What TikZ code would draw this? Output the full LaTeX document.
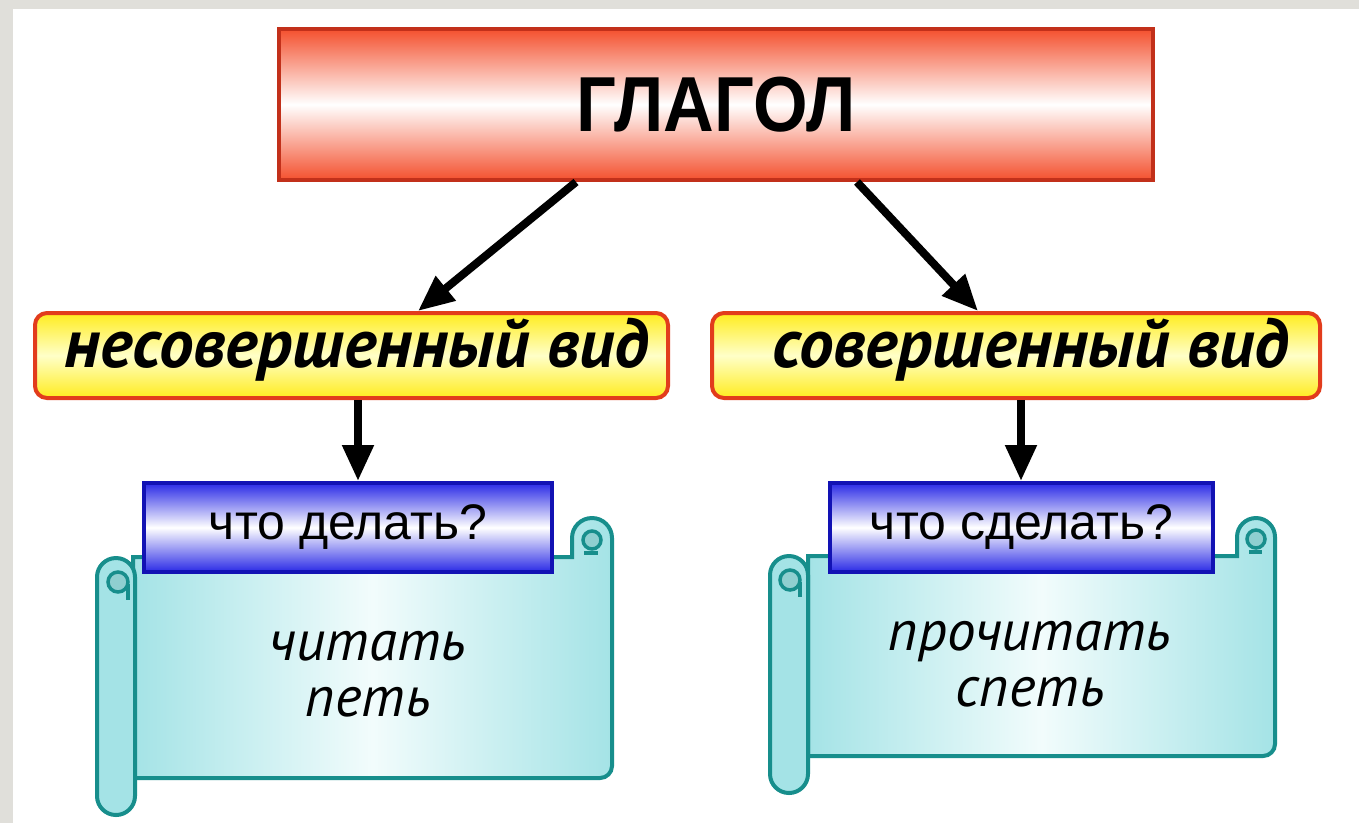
\documentclass[tikz,border=0pt]{standalone}
\usepackage{fontspec}
\setmainfont{Liberation Sans}
\newfontfamily\ptsans{PT Sans}
\usetikzlibrary{arrows.meta}
\definecolor{bgray}{HTML}{E0DFDA}
\definecolor{redfill}{HTML}{F4502E}
\definecolor{redline}{HTML}{C2301A}
\definecolor{yelfill}{HTML}{FFEC1E}
\definecolor{yelmid}{HTML}{FFFFC8}
\definecolor{yelline}{HTML}{E23C1C}
\definecolor{bluefill}{HTML}{2A2AE6}
\definecolor{blueline}{HTML}{1212B4}
\definecolor{cyanfill}{HTML}{A4E3E6}
\definecolor{cyanmid}{HTML}{F2FCFC}
\definecolor{tealline}{HTML}{178E8C}
\definecolor{curlfill}{HTML}{8FCFD0}
\tikzset{
  redbox/.style={draw=redline, line width=4pt, top color=redfill, bottom color=redfill, middle color=white, inner sep=0pt},
  yelbox/.style={draw=yelline, line width=4pt, rounded corners=12pt, top color=yelfill, bottom color=yelfill, middle color=yelmid, inner sep=0pt, minimum width=633pt, minimum height=85pt},
  bluebox/.style={draw=blueline, line width=4pt, top color=bluefill, bottom color=bluefill, middle color=white, inner sep=0pt, minimum height=89pt},
  scrollbody/.style={draw=tealline, line width=4pt, left color=cyanfill, right color=cyanfill, middle color=cyanmid},
  rollpart/.style={draw=tealline, line width=4pt, fill=cyanfill},
  curl/.style={draw=tealline, line width=3.5pt, fill=curlfill},
  arr/.style={line width=8pt, -{Triangle[length=36pt,width=30pt]}},
  yeltext/.style={font=\ptsans\bfseries\itshape\fontsize{69}{69}\selectfont},
  bluetext/.style={font=\fontsize{50}{50}\selectfont},
  scrolltext/.style={font=\ptsans\itshape\fontsize{57}{56}\selectfont, align=center, inner sep=0pt}
}
\begin{document}
\begin{tikzpicture}[x=1pt,y=-1pt]
\useasboundingbox (0,0) rectangle (1359,823);
\fill[bgray] (0,0) rectangle (1359,823);
\fill[white] (13,9) rectangle (1359,823);

% top node
\node[redbox, minimum width=874pt, minimum height=151pt] (glagol) at (716,104.5)
  {\scalebox{0.9}[1]{\fontsize{78}{78}\selectfont\bfseries ГЛАГОЛ}};

% aspect boxes
\node[yelbox] (nesov) at (351.5,355.5) {\phantom{x}};
\node[yeltext] (nesovt) at (357,350) {несовершенный вид};
\node[yelbox, minimum width=608pt] (sov) at (1016,355.5) {\phantom{x}};
\node[yeltext] (sovt) at (1031,350) {совершенный вид};

% left scroll
\path[scrollbody] (133,557) -- (572,557) -- (572,538)
  arc[start angle=180, end angle=360, radius=20] -- (612,766)
  arc[start angle=0, end angle=90, radius=12] -- (133,778) -- cycle;
\draw[curl] (592,540) circle[radius=9];
\draw[tealline, line width=3.5pt] (584,553) -- (598,553);
\path[rollpart] (97,577) arc[start angle=180, end angle=360, radius=19]
  -- (135,796) arc[start angle=0, end angle=180, radius=19] -- cycle;
\draw[curl] (118,582) circle[radius=10];
\draw[tealline, line width=3.5pt] (128,584) -- (128,600);

% right scroll
\path[scrollbody] (808,556) -- (1237,556) -- (1237,537)
  arc[start angle=180, end angle=360, radius=19] -- (1275,744)
  arc[start angle=0, end angle=90, radius=12] -- (808,756) -- cycle;
\draw[curl] (1256,539) circle[radius=9];
\draw[tealline, line width=3.5pt] (1249,552) -- (1262,552);
\path[rollpart] (770,575) arc[start angle=180, end angle=360, radius=19]
  -- (808,774) arc[start angle=0, end angle=180, radius=19] -- cycle;
\draw[curl] (790,580) circle[radius=10];
\draw[tealline, line width=3.5pt] (800,582) -- (800,597);

% question boxes
\node[bluebox, minimum width=408pt] (q1) at (348,527.5) {};
\node[bluetext] (q1t) at (348,527.5) {что делать?};
\node[bluebox, minimum width=383pt] (q2) at (1021.5,527.5) {};
\node[bluetext] (q2t) at (1021.5,527.5) {что сделать?};

% examples
\node[scrolltext] (ex1) at (368,674) {читать\\петь};
\node[scrolltext] (ex2) at (1030,664) {прочитать\\спеть};

% arrows
\draw[arr] ([xshift=-140pt]glagol.south) -- ([xshift=66.5pt]nesov.north);
\draw[arr] ([xshift=141pt]glagol.south) -- ([xshift=-38pt]sov.north);
\draw[arr] ([xshift=6.5pt]nesov.south) -- ([xshift=10pt]q1.north);
\draw[arr] ([xshift=5pt]sov.south) -- ([xshift=-0.5pt]q2.north);
\end{tikzpicture}
\end{document}
